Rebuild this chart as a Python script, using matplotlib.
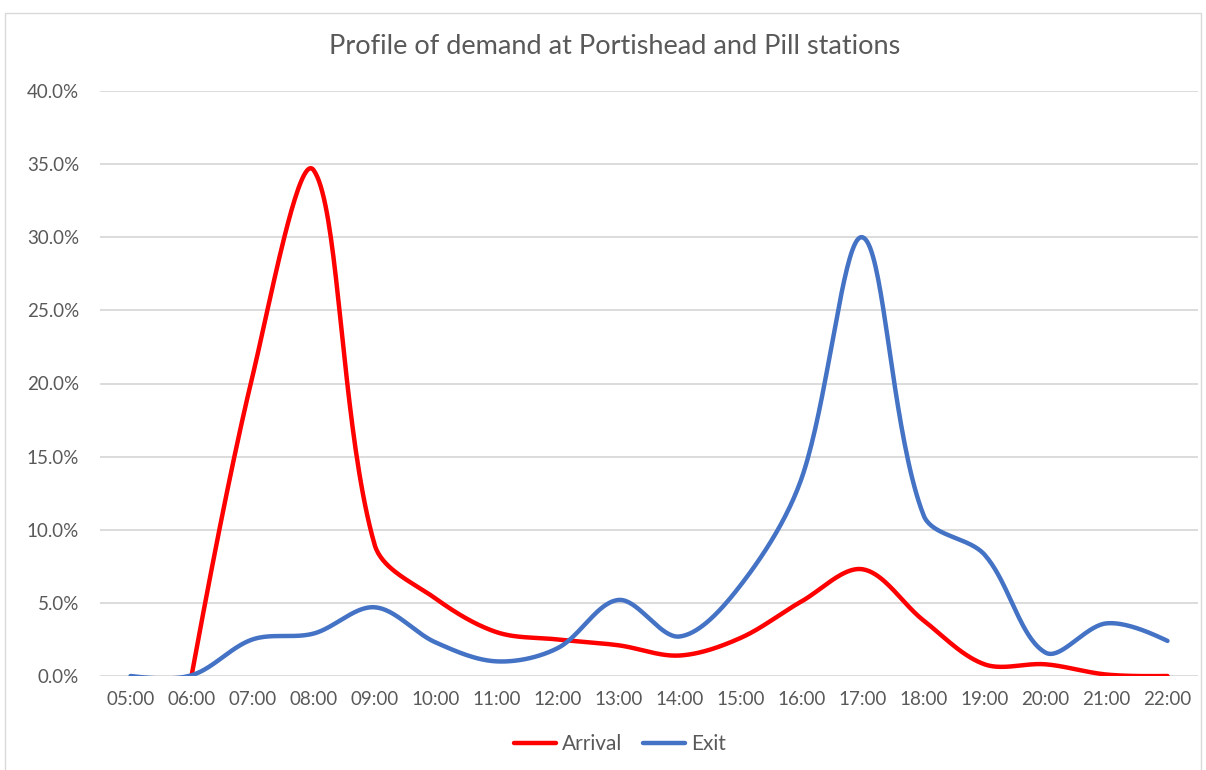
import numpy as np
import matplotlib.pyplot as plt
from matplotlib.patches import Rectangle
from matplotlib.ticker import FuncFormatter

hours = ['05:00', '06:00', '07:00', '08:00', '09:00', '10:00', '11:00', '12:00', '13:00',
         '14:00', '15:00', '16:00', '17:00', '18:00', '19:00', '20:00', '21:00', '22:00']
arrival = [np.nan, 0.0, 20.5, 34.6, 9.0, 5.3, 3.0, 2.5, 2.1, 1.4, 2.6, 5.1, 7.3, 3.8, 0.8, 0.8, 0.1, 0.0]
exit_ = [0.0, 0.05, 2.5, 2.9, 4.7, 2.3, 1.0, 1.9, 5.2, 2.7, 6.2, 13.5, 30.0, 11.0, 8.3, 1.6, 3.6, 2.4]

plt.rcParams['font.family'] = ['Lato', 'DejaVu Sans']

# pixel size of one hour / one percent, used so the smoothing works on screen distances
SX, SY = 61.0, 14.625


def smooth(xs, ys, n=40):
    # excel style smoothed line: bezier segments, tangents scaled by neighbour segment lengths
    pts = [(x * SX, y * SY) for x, y in zip(xs, ys) if not np.isnan(y)]
    P = np.array(pts, float)
    m = len(P)
    d = np.hypot(*(P[1:] - P[:-1]).T)
    cin = np.zeros_like(P)
    cout = np.zeros_like(P)
    for i in range(m):
        if i == 0 or i == m - 1:
            cin[i] = P[i]
            cout[i] = P[i]
            continue
        T = P[i + 1] - P[i - 1]
        d1, d2 = d[i - 1], d[i]
        cout[i] = P[i] + T * d2 / (d1 + d2) / 3
        cin[i] = P[i] - T * d1 / (d1 + d2) / 3
    cout[0] = P[0] + (cin[1] - P[0]) / 3
    cin[-1] = P[-1] + (cout[-2] - P[-1]) / 3
    t = np.linspace(0, 1, n)[:, None]
    out = []
    for i in range(m - 1):
        b = ((1 - t) ** 3 * P[i] + 3 * (1 - t) ** 2 * t * cout[i]
             + 3 * (1 - t) * t ** 2 * cin[i + 1] + t ** 3 * P[i + 1])
        out.append(b)
    out = np.vstack(out)
    return out[:, 0] / SX, out[:, 1] / SY


fig = plt.figure(figsize=(12.06, 7.70), dpi=100)
fig.patches.append(Rectangle((5 / 1206, -0.05), 1196 / 1206, 1.05 - 13 / 770,
                             transform=fig.transFigure, fill=False, edgecolor='#d9d9d9', lw=1))
ax = fig.add_axes([100 / 1206, 94 / 770, 1098 / 1206, 585 / 770])

x = np.arange(len(hours))
sx, sy = smooth(x, arrival)
ax.plot(sx, sy, color='#ff0000', lw=3.2, label='Arrival', solid_capstyle='round')
sx, sy = smooth(x, exit_)
ax.plot(sx, sy, color='#4472c4', lw=3.2, label='Exit', solid_capstyle='round')

ax.set_xlim(-0.5, 17.5)
ax.set_ylim(0, 40)
ax.set_yticks(np.arange(0, 41, 5))
ax.yaxis.set_major_formatter(FuncFormatter(lambda v, p: f'{v:.1f}%'))
ax.set_xticks(x)
ax.set_xticklabels(hours)
ax.grid(axis='y', color='#d9d9d9', lw=1.3)
ax.set_axisbelow(True)
for s in ax.spines.values():
    s.set_visible(False)
ax.tick_params(axis='both', length=0, labelsize=13.5, colors='#595959')
ax.tick_params(axis='y', pad=15)
ax.tick_params(axis='x', pad=11)

fig.text(615 / 1206, 1 - 47 / 770, 'Profile of demand at Portishead and Pill stations',
         ha='center', va='center', fontsize=19.5, color='#595959')

fig.legend(loc='center', bbox_to_anchor=(620 / 1206, 1 - 744 / 770), ncol=2, frameon=False,
           fontsize=15, handlelength=2.0, columnspacing=1.0, handletextpad=0.3,
           labelcolor='#595959')

plt.savefig('out.png', dpi=100)
